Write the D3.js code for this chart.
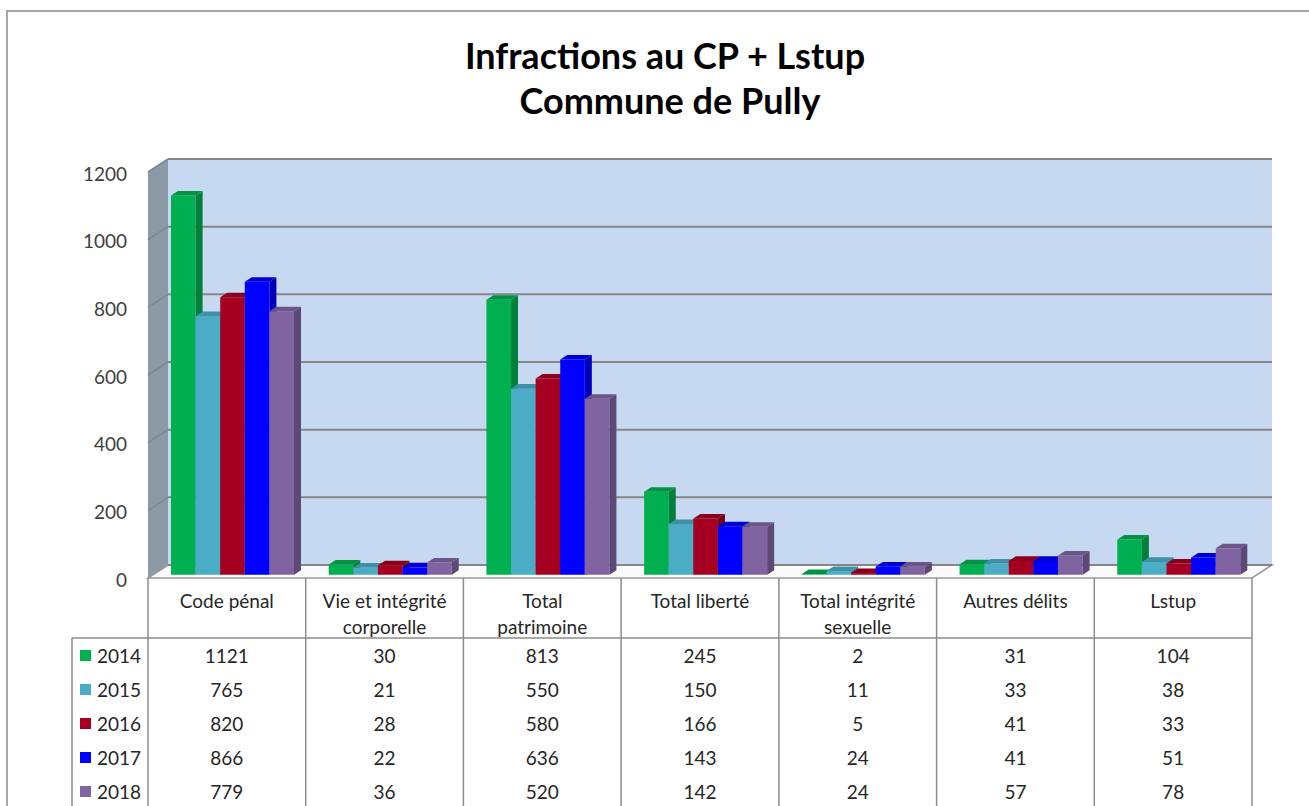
<!DOCTYPE html>
<html>
<head>
<meta charset="utf-8">
<script src="https://cdn.jsdelivr.net/npm/d3@7"></script>
<style>
  body { margin: 0; background: #fff; }
  svg { display: block; font-family: Lato, "Open Sans", sans-serif; }
</style>
</head>
<body>
<div id="chart"></div>
<script>
// categories (table header) and series
const categories = [
  ["Code pénal"],
  ["Vie et intégrité", "corporelle"],
  ["Total", "patrimoine"],
  ["Total liberté"],
  ["Total intégrité", "sexuelle"],
  ["Autres délits"],
  ["Lstup"]
]
const years = ["2014", "2015", "2016", "2017", "2018"]
const yearColors = ["#00b050", "#4bacc6", "#a50021", "#0000ff", "#8064a2"]

const v2014 = [1121, 30, 813, 245, 2, 31, 104]
const v2015 = [765, 21, 550, 150, 11, 33, 38]
const v2016 = [820, 28, 580, 166, 5, 41, 33]
const v2017 = [866, 22, 636, 143, 24, 41, 51]
const v2018 = [779, 36, 520, 142, 24, 57, 78]
const series = [v2014, v2015, v2016, v2017, v2018]

const yTicks = [0, 200, 400, 600, 800, 1000, 1200]

const width = 1309, height = 806

const svg = d3.select("#chart").append("svg")
  .attr("width", width)
  .attr("height", height)

// outer frame
svg.append("rect")
  .attr("x", 7).attr("y", 11)
  .attr("width", 1400).attr("height", 900)
  .style("fill", "none")
  .style("stroke", "#a6a6a6")
  .style("stroke-width", 2)

// title
svg.append("text")
  .attr("x", 665).attr("y", 69)
  .attr("text-anchor", "middle")
  .style("font-weight", "bold")
  .style("font-size", "36px")
  .style("fill", "#000")
  .text("Infractions au CP + Lstup")
svg.append("text")
  .attr("x", 670).attr("y", 114)
  .attr("text-anchor", "middle")
  .style("font-weight", "bold")
  .style("font-size", "36px")
  .style("fill", "#000")
  .text("Commune de Pully")

// 3d geometry: front plane and depth offset
const left = 148, right = 1252, floorY = 578
const DX = 20, DY = -13

const y = d3.scaleLinear().domain([0, 1200]).range([0, 406])

const x0 = d3.scaleBand()
  .domain(d3.range(categories.length))
  .range([left, right])

const x1 = d3.scaleBand()
  .domain(d3.range(years.length))
  .range([18, 141])

// project (x, value, depth) to screen
function P(x, v, t) {
  return [x + t * DX, floorY - y(v) + t * DY]
}
function poly(pts) {
  return pts.map(p => p.join(",")).join(" ")
}

// back wall
svg.append("polygon")
  .attr("points", poly([P(left, 0, 1), P(right, 0, 1), P(right, 1200, 1), P(left, 1200, 1)]))
  .style("fill", "#c6d9f1")

// left side wall
svg.append("polygon")
  .attr("points", poly([P(left, 0, 0), P(left, 0, 1), P(left, 1200, 1), P(left, 1200, 0)]))
  .style("fill", "#8c99a7")

// floor
svg.append("polygon")
  .attr("points", poly([P(left, 0, 0), P(right, 0, 0), P(right, 0, 1), P(left, 0, 1)]))
  .style("fill", "#fafafa")
  .style("stroke", "#9a9a9a")
  .style("stroke-width", 1.5)

// gridlines on back and side walls
yTicks.forEach(function(t) {
  svg.append("line")
    .attr("x1", P(left, t, 1)[0]).attr("y1", P(left, t, 1)[1])
    .attr("x2", P(right, t, 1)[0]).attr("y2", P(right, t, 1)[1])
    .style("stroke", "#868686")
    .style("stroke-width", 2)
  if (t > 0) {
    svg.append("line")
      .attr("x1", P(left, t, 0)[0]).attr("y1", P(left, t, 0)[1])
      .attr("x2", P(left, t, 1)[0]).attr("y2", P(left, t, 1)[1])
      .style("stroke", "#7a8794")
      .style("stroke-width", 1.5)
  }
})

// y axis labels
svg.selectAll(".ylab")
  .data(yTicks)
  .enter()
  .append("text")
  .attr("class", "ylab")
  .attr("x", 127)
  .attr("y", d => P(left, d, 0)[1] + 2)
  .attr("dy", "0.35em")
  .attr("text-anchor", "end")
  .style("font-size", "19px")
  .style("fill", "#404040")
  .text(d => d)

// bars
const tFront = 0.25, tBack = 0.6
const bars = svg.append("g")
categories.forEach(function(c, ci) {
  years.forEach(function(yr, si) {
    const v = series[si][ci]
    const xa = x0(ci) + x1(si)
    const xb = xa + x1.bandwidth()
    const col = d3.color(yearColors[si])
    const g = bars.append("g")
    g.append("polygon")
      .attr("points", poly([P(xa, 0, tFront), P(xb, 0, tFront), P(xb, v, tFront), P(xa, v, tFront)]))
      .style("fill", col.formatHex())
    g.append("polygon")
      .attr("points", poly([P(xb, 0, tFront), P(xb, 0, tBack), P(xb, v, tBack), P(xb, v, tFront)]))
      .style("fill", col.darker(0.9).formatHex())
    g.append("polygon")
      .attr("points", poly([P(xa, v, tFront), P(xb, v, tFront), P(xb, v, tBack), P(xa, v, tBack)]))
      .style("fill", col.darker(0.5).formatHex())
  })
})

// data table
const rowTop = 638, rowH = 34
const tableColor = "#8c8c8c"
const table = svg.append("g")

// vertical lines
d3.range(categories.length + 1).forEach(function(i) {
  const xx = i < categories.length ? x0(i) : right
  table.append("line")
    .attr("x1", xx).attr("x2", xx)
    .attr("y1", floorY).attr("y2", height + 10)
    .style("stroke", tableColor).style("stroke-width", 1.5)
})
// header bottom line and legend box
table.append("line")
  .attr("x1", 72).attr("x2", right)
  .attr("y1", rowTop).attr("y2", rowTop)
  .style("stroke", tableColor).style("stroke-width", 1.5)
table.append("line")
  .attr("x1", 72).attr("x2", 72)
  .attr("y1", rowTop).attr("y2", height + 10)
  .style("stroke", tableColor).style("stroke-width", 1.5)

// header labels
categories.forEach(function(c, ci) {
  c.forEach(function(line, li) {
    table.append("text")
      .attr("x", x0(ci) + x0.bandwidth() / 2)
      .attr("y", 601 + li * 26)
      .attr("dy", "0.35em")
      .attr("text-anchor", "middle")
      .style("font-size", "19px")
      .style("fill", "#262626")
      .text(line)
  })
})

// rows
years.forEach(function(yr, si) {
  const cy = rowTop + rowH / 2 + si * rowH + 1
  table.append("rect")
    .attr("x", 80).attr("y", cy - 6)
    .attr("width", 11).attr("height", 11)
    .style("fill", yearColors[si])
  table.append("text")
    .attr("x", 97).attr("y", cy)
    .attr("dy", "0.35em")
    .style("font-size", "19px")
    .style("fill", "#262626")
    .text(yr)
  series[si].forEach(function(v, ci) {
    table.append("text")
      .attr("x", x0(ci) + x0.bandwidth() / 2)
      .attr("y", cy)
      .attr("dy", "0.35em")
      .attr("text-anchor", "middle")
      .style("font-size", "19px")
      .style("fill", "#262626")
      .text(v)
  })
})
</script>
</body>
</html>
